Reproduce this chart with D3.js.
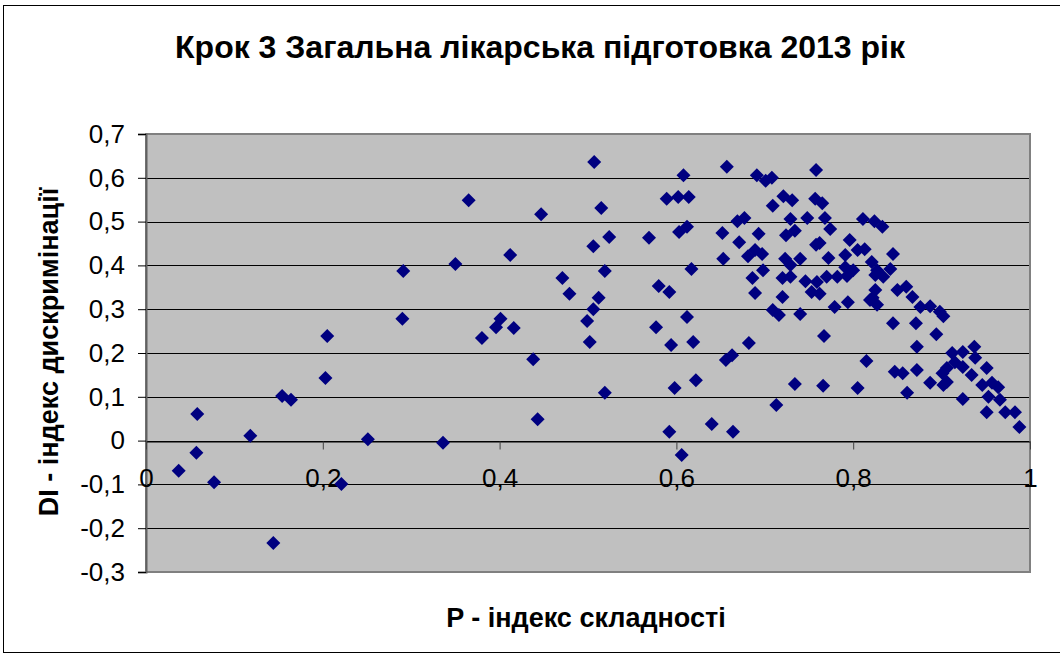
<!DOCTYPE html>
<html>
<head>
<meta charset="utf-8">
<script src="https://cdn.jsdelivr.net/npm/d3@7"></script>
<style>
body { margin: 0; background: #ffffff; }
text { font-family: Arial, "Liberation Sans", sans-serif; }
</style>
</head>
<body>
<div id="chart"></div>
<script>
var title = "Крок 3 Загальна лікарська підготовка 2013 рік";
var xTitle = "P - індекс складності";
var yTitle = "DI - індекс дискримінації";
var xTicks = [0, 0.2, 0.4, 0.6, 0.8, 1];
var yTicks = [-0.3, -0.2, -0.1, 0, 0.1, 0.2, 0.3, 0.4, 0.5, 0.6, 0.7];

// P - index of difficulty
var pValues = [
    0.037, 0.058, 0.057, 0.077, 0.118, 0.144, 0.154, 0.164, 0.203, 0.205,
    0.221, 0.251, 0.291, 0.290, 0.336, 0.350, 0.365, 0.380, 0.396, 0.401,
    0.412, 0.416, 0.438, 0.443, 0.447, 0.471, 0.479, 0.499, 0.502, 0.506,
    0.506, 0.507, 0.512, 0.515, 0.519, 0.519, 0.524, 0.569, 0.577, 0.580,
    0.589, 0.592, 0.594, 0.592, 0.598, 0.602, 0.603, 0.606, 0.608, 0.612,
    0.612, 0.614, 0.617, 0.619, 0.622, 0.640, 0.652, 0.653, 0.656, 0.657,
    0.663, 0.664, 0.669, 0.671, 0.677, 0.682, 0.681, 0.686, 0.689, 0.689,
    0.691, 0.693, 0.697, 0.698, 0.701, 0.708, 0.709, 0.709, 0.713, 0.716,
    0.720, 0.720, 0.721, 0.723, 0.724, 0.729, 0.729, 0.729, 0.731, 0.734,
    0.734, 0.740, 0.740, 0.746, 0.748, 0.753, 0.757, 0.758, 0.758, 0.759,
    0.762, 0.762, 0.765, 0.766, 0.767, 0.768, 0.770, 0.772, 0.774, 0.779,
    0.782, 0.791, 0.791, 0.793, 0.794, 0.796, 0.800, 0.805, 0.805, 0.811,
    0.813, 0.815, 0.821, 0.822, 0.824, 0.825, 0.827, 0.827, 0.833, 0.834,
    0.842, 0.845, 0.845, 0.850, 0.860, 0.867, 0.871, 0.872, 0.876, 0.887,
    0.894, 0.898, 0.902, 0.912, 0.924, 0.937, 0.915, 0.938, 0.924, 0.951,
    0.934, 0.906, 0.901, 0.847, 0.856, 0.872, 0.887, 0.902, 0.906, 0.861,
    0.924, 0.946, 0.957, 0.964, 0.953, 0.966, 0.951, 0.972, 0.983, 0.988,
    0.819, 0.825
];

// DI - index of discrimination
var diValues = [
    -0.069, 0.061, -0.028, -0.095, 0.011, -0.234, 0.102, 0.093, 0.143, 0.239,
    -0.099, 0.003, 0.387, 0.278, -0.005, 0.403, 0.549, 0.234, 0.259, 0.278,
    0.424, 0.257, 0.186, 0.049, 0.517, 0.371, 0.335, 0.273, 0.225, 0.300,
    0.444, 0.636, 0.326, 0.531, 0.387, 0.109, 0.465, 0.463, 0.259, 0.353,
    0.552, 0.339, 0.218, 0.020, 0.120, 0.556, 0.476, -0.033, 0.606, 0.488,
    0.282, 0.556, 0.392, 0.225, 0.138, 0.038, 0.474, 0.415, 0.184, 0.625,
    0.195, 0.020, 0.501, 0.453, 0.508, 0.223, 0.421, 0.371, 0.435, 0.337,
    0.606, 0.472, 0.426, 0.389, 0.593, 0.600, 0.536, 0.298, 0.081, 0.287,
    0.371, 0.328, 0.558, 0.415, 0.469, 0.506, 0.401, 0.374, 0.549, 0.479,
    0.129, 0.415, 0.289, 0.364, 0.508, 0.339, 0.552, 0.618, 0.447, 0.362,
    0.451, 0.335, 0.542, 0.125, 0.239, 0.508, 0.374, 0.417, 0.483, 0.305,
    0.374, 0.424, 0.396, 0.376, 0.316, 0.458, 0.389, 0.435, 0.120, 0.506,
    0.437, 0.182, 0.408, 0.326, 0.501, 0.378, 0.389, 0.310, 0.488, 0.374,
    0.392, 0.426, 0.268, 0.344, 0.351, 0.328, 0.268, 0.214, 0.305, 0.307,
    0.243, 0.294, 0.284, 0.200, 0.202, 0.214, 0.179, 0.189, 0.168, 0.166,
    0.150, 0.166, 0.154, 0.157, 0.154, 0.161, 0.132, 0.127, 0.134, 0.109,
    0.095, 0.127, 0.132, 0.122, 0.100, 0.093, 0.065, 0.065, 0.065, 0.031,
    0.321, 0.344
];

var width = 1060, height = 655;
var plotLeft = 146, plotRight = 1030, plotTop = 134, plotBottom = 572;
var plotFill = "#c0c0c0", markColor = "#000080";
var tickFmt = function (d) { return String(+d.toFixed(1)).replace(".", ","); };

var svg = d3.select("#chart")
    .append("svg")
    .attr("width", width)
    .attr("height", height);

var x = d3.scaleLinear().domain([0, 1]).range([plotLeft, plotRight]);
var y = d3.scaleLinear().domain([-0.3, 0.7]).range([plotBottom, plotTop]);

// chart frame
svg.append("rect")
    .attr("x", 3.5)
    .attr("y", 5.5)
    .attr("width", width + 10)
    .attr("height", 647)
    .attr("fill", "#ffffff")
    .attr("stroke", "#000000")
    .attr("stroke-width", 1);

// plot area
svg.append("rect")
    .attr("x", plotLeft)
    .attr("y", plotTop)
    .attr("width", plotRight - plotLeft)
    .attr("height", plotBottom - plotTop)
    .attr("fill", plotFill);

// horizontal gridlines
svg.append("g")
    .selectAll("line")
    .data(yTicks)
    .enter()
    .append("line")
    .attr("x1", plotLeft)
    .attr("x2", plotRight)
    .attr("y1", function (d) { return Math.round(y(d)) + 0.5; })
    .attr("y2", function (d) { return Math.round(y(d)) + 0.5; })
    .attr("stroke", "#000000")
    .attr("stroke-width", 1);

// plot border (gray)
svg.append("rect")
    .attr("x", plotLeft)
    .attr("y", plotTop)
    .attr("width", plotRight - plotLeft)
    .attr("height", plotBottom - plotTop)
    .attr("fill", "none")
    .attr("stroke", "#808080")
    .attr("stroke-width", 2);

// y axis
var yAxis = d3.axisLeft(y)
    .tickValues(yTicks)
    .tickFormat(tickFmt)
    .tickSize(8)
    .tickPadding(13);

var gy = svg.append("g")
    .attr("transform", "translate(" + plotLeft + ",0)")
    .call(yAxis);
gy.select(".domain").attr("stroke", "#606060").attr("stroke-width", 2);
gy.selectAll(".tick line").attr("stroke", "#000000");
gy.selectAll(".tick text")
    .attr("font-size", "26px")
    .attr("fill", "#000000")
    .attr("font-family", "Arial, 'Liberation Sans', sans-serif");

// x axis through zero
var xAxis = d3.axisBottom(x)
    .tickValues(xTicks)
    .tickFormat(tickFmt)
    .tickSize(8)
    .tickSizeOuter(0)
    .tickPadding(19);

var gx = svg.append("g")
    .attr("transform", "translate(0," + (Math.round(y(0)) + 0.5) + ")")
    .call(xAxis);
gx.select(".domain").attr("stroke", "#000000");
gx.selectAll(".tick line").attr("stroke", "#404040");
gx.selectAll(".tick text")
    .attr("font-size", "26px")
    .attr("fill", "#000000")
    .attr("font-family", "Arial, 'Liberation Sans', sans-serif");

// points (Excel-style diamonds)
var points = pValues.map(function (p, i) { return { p: p, di: diValues[i] }; });
var r = 7;
svg.append("g")
    .selectAll("path")
    .data(points)
    .enter()
    .append("path")
    .attr("d", "M0," + (-r) + "L" + r + ",0L0," + r + "L" + (-r) + ",0Z")
    .attr("transform", function (d) { return "translate(" + x(d.p) + "," + y(d.di) + ")"; })
    .attr("fill", markColor);

// titles
svg.append("text")
    .attr("x", 540)
    .attr("y", 58)
    .attr("text-anchor", "middle")
    .attr("font-size", "32px")
    .attr("font-weight", "bold")
    .text(title);

svg.append("text")
    .attr("x", 586)
    .attr("y", 627)
    .attr("text-anchor", "middle")
    .attr("font-size", "27px")
    .attr("font-weight", "bold")
    .text(xTitle);

svg.append("text")
    .attr("transform", "translate(58,352) rotate(-90)")
    .attr("text-anchor", "middle")
    .attr("font-size", "27px")
    .attr("font-weight", "bold")
    .text(yTitle);
</script>
</body>
</html>
